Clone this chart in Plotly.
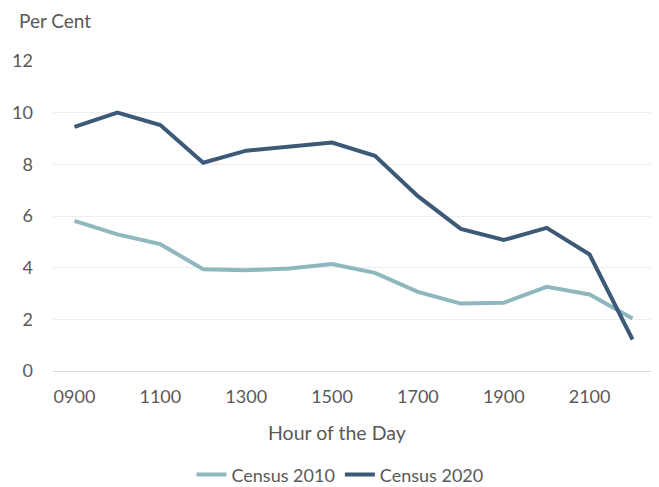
import plotly.graph_objects as go

hours = ["0900", "1000", "1100", "1200", "1300", "1400", "1500",
         "1600", "1700", "1800", "1900", "2000", "2100", "2200"]
census_2010 = [5.81, 5.29, 4.91, 3.94, 3.90, 3.97, 4.14,
               3.80, 3.06, 2.61, 2.64, 3.26, 2.96, 2.03]
census_2020 = [9.45, 10.0, 9.52, 8.06, 8.53, 8.68, 8.84,
               8.33, 6.77, 5.50, 5.07, 5.54, 4.51, 1.22]
tick_labels = ["0900", "1100", "1300", "1500", "1700", "1900", "2100"]
y_ticks = [0, 2, 4, 6, 8, 10, 12]

FONT = "Lato, 'Open Sans', sans-serif"
TXT = "#595959"

fig = go.Figure()
fig.add_trace(go.Scatter(x=hours, y=census_2010, mode="lines", name="Census 2010",
                         line=dict(color="#8fb7be", width=4)))
fig.add_trace(go.Scatter(x=hours, y=census_2020, mode="lines", name="Census 2020",
                         line=dict(color="#3c5a78", width=4)))

# page body has an 8px margin, so the figure is 8px smaller and shifted
fig.update_layout(
    width=651, height=479,
    margin=dict(l=45, r=5, t=53, b=116, autoexpand=False),
    paper_bgcolor="white", plot_bgcolor="white",
    font=dict(family=FONT, size=18, color=TXT),
    showlegend=True,
    legend=dict(orientation="h", x=0.4775, xanchor="center", y=-0.335, yanchor="middle",
                font=dict(size=18, color=TXT), itemwidth=30, bgcolor="rgba(0,0,0,0)"),
    xaxis=dict(type="category", range=[-0.5, 13.5], tickvals=tick_labels, ticktext=tick_labels,
               showgrid=False, showline=False, zeroline=False, ticks="", automargin=False,
               ticklabelstandoff=13, tickfont=dict(size=18, color=TXT)),
    yaxis=dict(range=[0, 12], tickvals=y_ticks, showgrid=True, gridcolor="#efefef", gridwidth=1,
               zeroline=True, zerolinecolor="#d9d9d9", zerolinewidth=1, automargin=False,
               showline=False, ticks="", ticklabelstandoff=19,
               tickfont=dict(size=18, color=TXT)),
    annotations=[
        dict(text="Per Cent", xref="paper", yref="paper", x=-0.0599, y=1.132,
             xanchor="left", yanchor="middle", showarrow=False,
             font=dict(size=19, color=TXT, family=FONT)),
        dict(text="Hour of the Day", xref="paper", yref="paper", x=0.473, y=-0.197,
             xanchor="center", yanchor="middle", showarrow=False,
             font=dict(size=19.5, color=TXT, family=FONT)),
    ],
)

fig.write_html("out.html")
